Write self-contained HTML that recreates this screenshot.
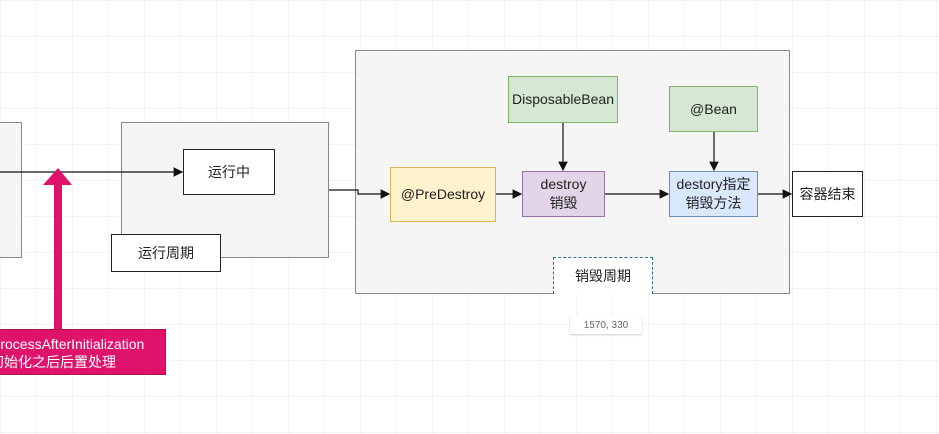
<!DOCTYPE html>
<html><head><meta charset="utf-8"><style>
body{margin:0;width:939px;height:434px;overflow:hidden;position:relative;background:#fff;
background-image:linear-gradient(#f3f3f3 1px,transparent 1px),linear-gradient(90deg,#f3f3f3 1px,transparent 1px);background-size:36px 36px;
font-family:"Liberation Sans","Noto Sans CJK SC",sans-serif;font-size:14px;color:#222}
.b{position:absolute;box-sizing:border-box;display:flex;align-items:center;justify-content:center;text-align:center;line-height:19px}
</style></head><body>
<div class="b" style="left:-5px;top:122px;width:27px;height:136px;background:#f5f5f5;border:1px solid #888"></div>
<div class="b" style="left:121px;top:122px;width:208px;height:136px;background:#f5f5f5;border:1px solid #888"></div>
<div class="b" style="left:355px;top:50px;width:435px;height:244px;background:#f5f5f5;border:1px solid #888"></div>
<svg style="position:absolute;left:0;top:0" width="939" height="434">
<defs><marker id="a" markerWidth="8" markerHeight="8" refX="7" refY="4" orient="auto"><path d="M0,0L8,4L0,8z" fill="#111"/></marker></defs>
<g stroke="#111" stroke-width="1.2" fill="none">
<line x1="0" y1="172" x2="182" y2="172" marker-end="url(#a)"/>
<path d="M329,190H358V194H389" marker-end="url(#a)"/>
<line x1="496" y1="194" x2="521" y2="194" marker-end="url(#a)"/>
<line x1="563" y1="122" x2="563" y2="170" marker-end="url(#a)"/>
<line x1="604" y1="194" x2="668" y2="194" marker-end="url(#a)"/>
<line x1="714" y1="131" x2="714" y2="170" marker-end="url(#a)"/>
<line x1="757" y1="194" x2="791" y2="194" marker-end="url(#a)"/>
</g>
<rect x="54" y="184" width="8" height="146" fill="#e0136c"/>
<path d="M43,185L58,168L72,185z" fill="#e0136c"/>
</svg>
<div class="b" style="left:183px;top:149px;width:92px;height:46px;background:#fff;border:1px solid #222">运行中</div>
<div class="b" style="left:111px;top:234px;width:110px;height:38px;background:#fff;border:1px solid #222">运行周期</div>
<div class="b" style="left:390px;top:167px;width:106px;height:55px;background:#fff2cc;border:1px solid #d6b656">@PreDestroy</div>
<div class="b" style="left:522px;top:171px;width:83px;height:46px;background:#e1d5e7;border:1px solid #9673a6">destroy<br>销毁</div>
<div class="b" style="left:508px;top:76px;width:110px;height:47px;background:#d5e8d4;border:1px solid #82b366">DisposableBean</div>
<div class="b" style="left:669px;top:86px;width:89px;height:46px;background:#d5e8d4;border:1px solid #82b366">@Bean</div>
<div class="b" style="left:669px;top:171px;width:89px;height:46px;background:#dae8fc;border:1px solid #6c8ebf">destory指定<br>销毁方法</div>
<div class="b" style="left:792px;top:171px;width:71px;height:46px;background:#fff;border:1px solid #222">容器结束</div>
<div class="b" style="left:553px;top:257px;width:100px;height:37px;background:#fff;border:1px dashed #2a6f8f;border-bottom:none">销毁周期</div>
<div class="b" style="left:570px;top:316px;width:72px;height:18px;background:#fff;font-size:10px;color:#666;box-shadow:0 1px 2px #ccc">1570, 330</div>
<div style="position:absolute;left:-10px;top:329px;width:176px;height:46px;background:#e0136c;border:1px solid #b0104f;box-sizing:border-box;color:#fff;font-size:14px;line-height:18px;padding-top:5px;white-space:nowrap">
<div style="margin-left:0px">ProcessAfterInitialization</div>
<div style="margin-left:-1px">初始化之后后置处理</div></div>
</body></html>
